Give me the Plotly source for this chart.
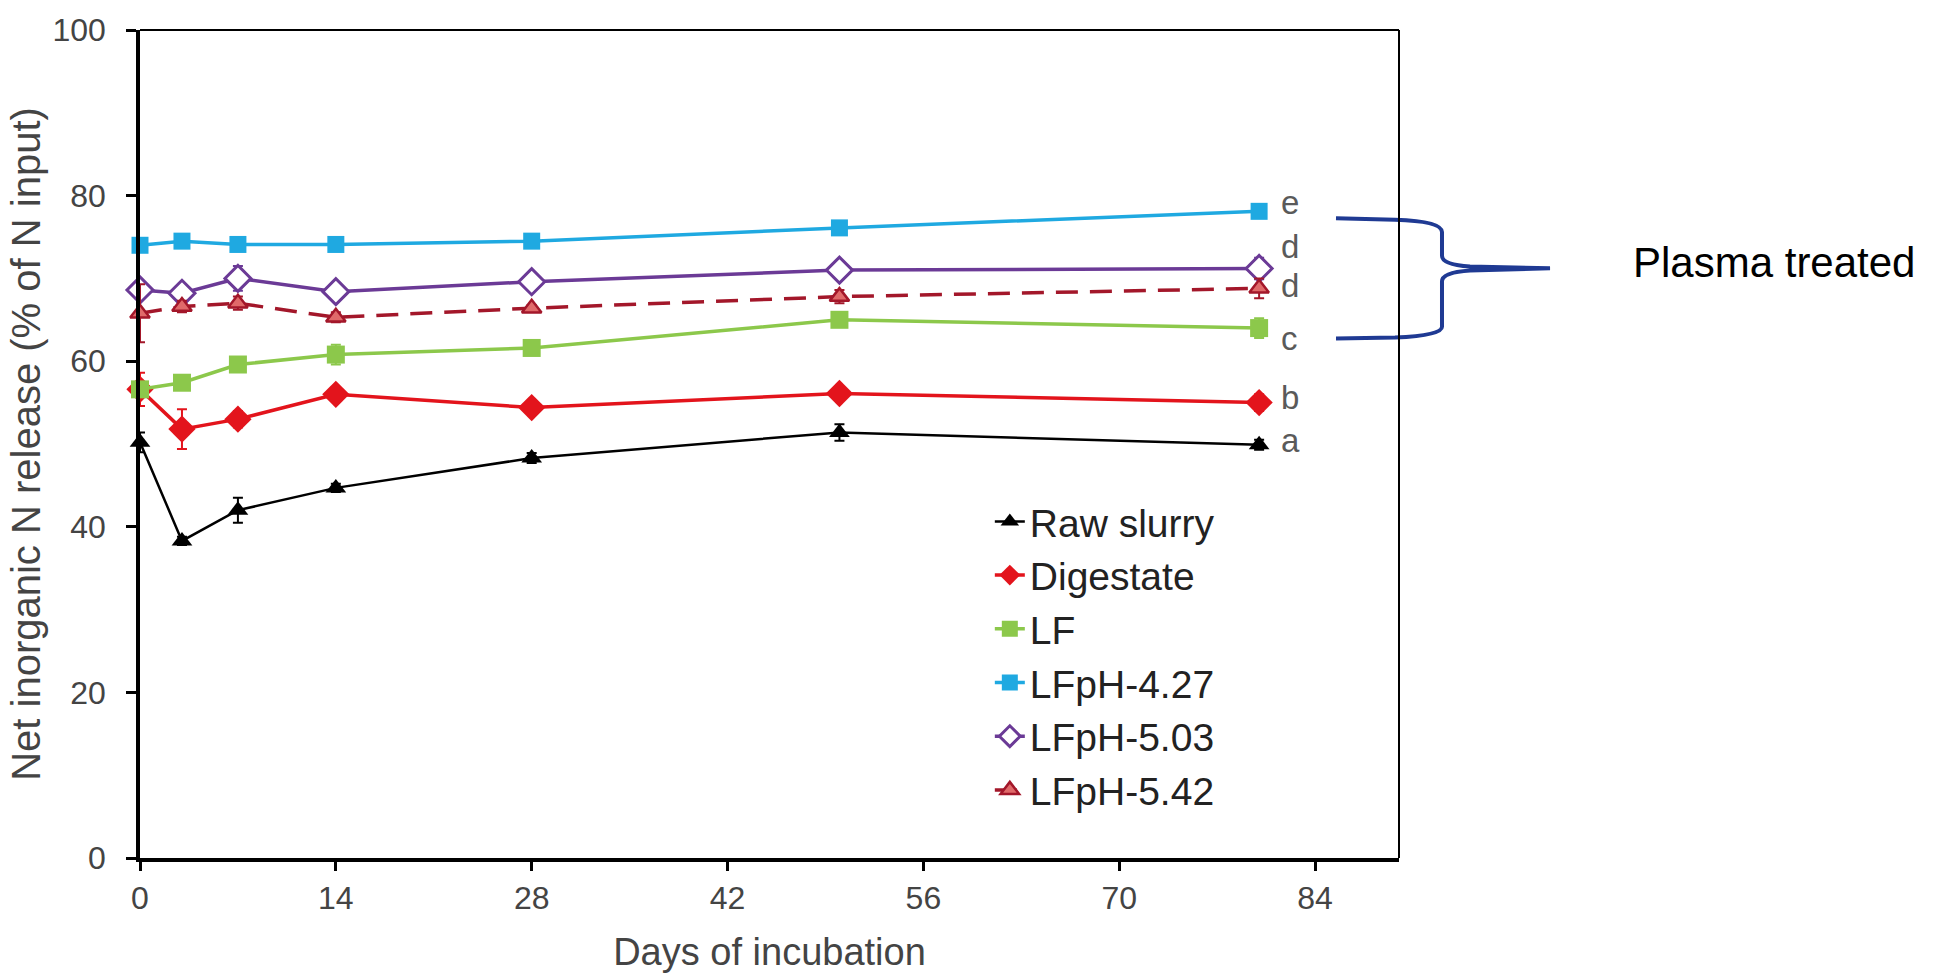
import plotly.graph_objects as go

# Sampling days of the incubation
days = [0, 3, 7, 14, 28, 50, 80]

# Net inorganic N release (% of N input) and standard errors per treatment
raw_slurry = [50.2, 38.3, 42.0, 44.7, 48.3, 51.4, 49.9]
raw_slurry_err = [1.2, 0.5, 1.5, 0.5, 0.6, 1.0, 0.6]

digestate = [56.6, 51.8, 53.0, 56.0, 54.4, 56.1, 55.0]
digestate_err = [2.0, 2.4, 1.0, 0.8, 0.6, 0.8, 1.0]

lf = [56.6, 57.4, 59.6, 60.8, 61.6, 65.0, 64.0]
lf_err = [0.6, 0.6, 0.8, 1.2, 0.6, 0.8, 1.2]

lf_ph427 = [74.0, 74.5, 74.1, 74.1, 74.5, 76.1, 78.1]
lf_ph427_err = [0.5, 0.8, 0.6, 0.4, 0.4, 0.5, 0.4]

lf_ph503 = [68.6, 68.2, 70.0, 68.4, 69.6, 71.0, 71.2]
lf_ph503_err = [0.6, 0.8, 1.5, 0.5, 0.6, 0.6, 1.3]

lf_ph542 = [65.8, 66.6, 67.0, 65.3, 66.4, 67.8, 68.8]
lf_ph542_err = [3.5, 0.7, 0.8, 0.6, 0.4, 0.8, 1.2]

# Significance letters placed after the last sampling day
letters = ["e", "d", "d", "c", "b", "a"]
letter_y = [79.2, 73.8, 69.2, 62.8, 55.6, 50.4]
letter_x = 81.4

FONT = "Liberation Sans, Arial, sans-serif"

series = [
    dict(name="Raw slurry", y=raw_slurry, err=raw_slurry_err, color="#000000",
         width=2.5, dash="solid", symbol="triangle-up", size=18,
         mcolor="#000000", mline="#000000", mlw=0),
    dict(name="Digestate", y=digestate, err=digestate_err, color="#e3141c",
         width=3.5, dash="solid", symbol="diamond", size=21,
         mcolor="#e3141c", mline="#e3141c", mlw=0),
    dict(name="LF", y=lf, err=lf_err, color="#8cc84b",
         width=3.5, dash="solid", symbol="square", size=18,
         mcolor="#8cc84b", mline="#8cc84b", mlw=0),
    dict(name="LFpH-4.27", y=lf_ph427, err=lf_ph427_err, color="#1fa9e1",
         width=3.5, dash="solid", symbol="square", size=17,
         mcolor="#1fa9e1", mline="#1fa9e1", mlw=0),
    dict(name="LFpH-5.03", y=lf_ph503, err=lf_ph503_err, color="#6b3a96",
         width=3.5, dash="solid", symbol="diamond", size=20,
         mcolor="#ffffff", mline="#6b3a96", mlw=3),
    dict(name="LFpH-5.42", y=lf_ph542, err=lf_ph542_err, color="#a3172a",
         width=3.5, dash="22px,12px", symbol="triangle-up", size=17,
         mcolor="#e06a6a", mline="#a3172a", mlw=2.5),
]

fig = go.Figure()
for s in series:
    fig.add_trace(go.Scatter(
        x=days, y=s["y"], name=s["name"], mode="lines+markers",
        line=dict(color=s["color"], width=s["width"], dash=s["dash"]),
        marker=dict(symbol=s["symbol"], size=s["size"], color=s["mcolor"],
                    line=dict(color=s["mline"], width=s["mlw"])),
        error_y=dict(type="data", array=s["err"], visible=True,
                     color=s["color"], thickness=2, width=5),
        cliponaxis=False,
    ))

for txt, yv in zip(letters, letter_y):
    fig.add_annotation(x=letter_x, y=yv, text=txt, showarrow=False,
                       xanchor="left", yanchor="middle",
                       font=dict(family=FONT, size=33, color="#5a5a5a"))

# Plot-area geometry in pixels, used to place the brace in paper units
W, H = 1936, 979
L, R, T, B = 140, 1399, 21, 861


def px(xp):
    return (xp - L) / (R - L)


def py(yp):
    return (B - yp) / (B - T)


brace_pts = [
    ("M", 1336, 212), ("L", 1395, 213.5), ("Q", 1442, 215, 1442, 226),
    ("L", 1442, 250), ("Q", 1442, 259, 1470, 261), ("L", 1550, 262.7),
    ("L", 1470, 265), ("Q", 1442, 267, 1442, 276), ("L", 1442, 322),
    ("Q", 1442, 331, 1395, 333), ("L", 1336, 334),
]
path = ""
for p in brace_pts:
    cmd, coords = p[0], p[1:]
    pairs = []
    for i in range(0, len(coords), 2):
        pairs.append(f"{px(coords[i]):.5f},{py(coords[i + 1]):.5f}")
    path += cmd + " " + " ".join(pairs) + " "
fig.add_shape(type="path", path=path.strip(), xref="paper", yref="paper",
              line=dict(color="#1f3a93", width=4))

fig.add_annotation(x=px(1631), y=py(257), xref="paper", yref="paper",
                   text="Plasma treated", showarrow=False,
                   xanchor="left", yanchor="middle",
                   font=dict(family=FONT, size=42, color="#000000"))

# Thin top and right frame of the plot box
fig.add_shape(type="line", xref="paper", yref="paper", x0=0, x1=1, y0=1, y1=1,
              line=dict(color="#000000", width=2))
fig.add_shape(type="line", xref="paper", yref="paper", x0=1, x1=1, y0=0, y1=1,
              line=dict(color="#000000", width=2))

fig.update_layout(
    width=W, height=H,
    margin=dict(l=L, r=W - R, t=T, b=H - B),
    paper_bgcolor="#ffffff", plot_bgcolor="#ffffff",
    font=dict(family=FONT, color="#444444"),
    showlegend=True,
    legend=dict(x=0.675, y=0.445, xanchor="left", yanchor="top",
                bgcolor="rgba(0,0,0,0)",
                font=dict(family=FONT, size=39, color="#222222")),
    xaxis=dict(range=[0, 90], tickvals=[0, 14, 28, 42, 56, 70, 84],
               showgrid=False, zeroline=False, showline=True,
               linecolor="#000000", linewidth=3.5,
               ticks="outside", ticklen=9, tickwidth=3, tickcolor="#000000",
               tickfont=dict(family=FONT, size=32, color="#444444"),
               title=dict(text="Days of incubation", standoff=24,
                          font=dict(family=FONT, size=38, color="#444444"))),
    yaxis=dict(range=[0, 100], tickvals=[0, 20, 40, 60, 80, 100],
               showgrid=False, zeroline=False, showline=True,
               linecolor="#000000", linewidth=3.5,
               ticks="outside", ticklen=10, tickwidth=3, tickcolor="#000000",
               ticklabelstandoff=14,
               tickfont=dict(family=FONT, size=32, color="#444444"),
               title=dict(text="Net inorganic N release (% of N input)", standoff=0,
                          font=dict(family=FONT, size=40, color="#444444"))),
)

fig.write_html("out.html")
